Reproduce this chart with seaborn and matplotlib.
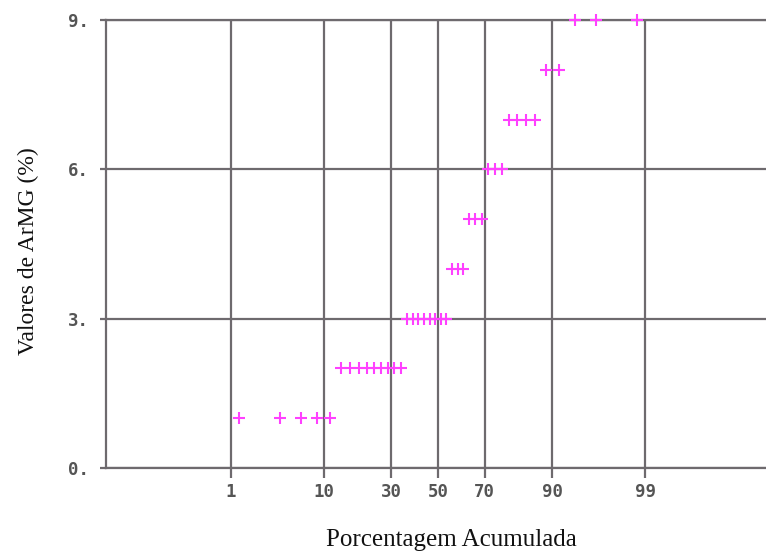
import numpy as np
import matplotlib
matplotlib.use("Agg")
import matplotlib.pyplot as plt
import seaborn as sns
import pandas as pd
from statistics import NormalDist

# ---- data ----
armg_values = [1, 1, 1, 1, 1,
               2, 2, 2, 2, 2, 2, 2, 2, 2,
               3, 3, 3, 3, 3, 3, 3, 3,
               4, 4, 4,
               5, 5, 5,
               6, 6, 6,
               7, 7, 7, 7,
               8, 8,
               9, 9, 9]
cum_percent = [1.25, 3.75, 6.25, 8.75, 11.25,
               13.75, 16.25, 18.75, 21.25, 23.75, 26.25, 28.75, 31.25, 33.75,
               36.25, 38.75, 41.25, 43.75, 46.25, 48.75, 51.25, 53.75,
               56.25, 58.75, 61.25,
               63.75, 66.25, 68.75,
               71.25, 73.75, 76.25,
               78.75, 81.25, 83.75, 86.25,
               88.75, 91.25,
               93.75, 96.25, 98.75]
x_ticks = [1, 10, 30, 50, 70, 90, 99]
x_ticklabels = ["1", "10", "30", "50", "70", "90", "99"]
y_ticks = [0, 3, 6, 9]
y_ticklabels = ["0.", "3.", "6.", "9."]

df = pd.DataFrame({"pct": cum_percent, "val": armg_values})

nd = NormalDist()


def fwd(p):
    p = np.asarray(p, dtype=float) / 100.0
    out = np.full(p.shape, np.nan)
    m = np.isfinite(p)
    q = np.clip(p[m], 1e-12, 1 - 1e-12)
    out[m] = [nd.inv_cdf(float(v)) for v in q]
    return out


def inv(z):
    z = np.asarray(z, dtype=float)
    out = np.full(z.shape, np.nan)
    m = np.isfinite(z)
    out[m] = [nd.cdf(float(v)) * 100.0 for v in z[m]]
    return out


sns.set_style("white")
plt.rcParams["font.family"] = ["DejaVu Sans"]

W, H = 766, 556
fig = plt.figure(figsize=(W / 100, H / 100), dpi=100)
left_px, right_px, top_px, bot_px = 106, 772, 20, 468
ax = fig.add_axes([left_px / W, (H - bot_px) / H,
                   (right_px - left_px) / W, (bot_px - top_px) / H])

ax.set_xscale("function", functions=(fwd, inv))

grid_col = "#6e6a6e"
ax.grid(True, color=grid_col, linewidth=1.6)
ax.set_axisbelow(True)

sns.scatterplot(data=df, x="pct", y="val", marker="+", color="#ff40ff",
                s=75, linewidth=1.5, ax=ax, zorder=3, clip_on=False,
                legend=False)

z_left = (left_px - 438) / 89.0
z_right = (right_px - 438) / 89.0
ax.set_xlim(nd.cdf(z_left) * 100, nd.cdf(z_right) * 100)
ax.set_ylim(0, 9)

ax.set_xticks(x_ticks)
ax.set_xticklabels(x_ticklabels)
ax.set_yticks(y_ticks)
ax.set_yticklabels(y_ticklabels)
ax.xaxis.set_minor_locator(matplotlib.ticker.NullLocator())

for lab in ax.get_xticklabels() + ax.get_yticklabels():
    lab.set_fontfamily("DejaVu Sans Mono")
    lab.set_fontweight("bold")
    lab.set_fontsize(12.5)
    lab.set_color("#555555")

ax.tick_params(axis="x", direction="out", length=7, width=1.6,
               color=grid_col, pad=3.5, bottom=True)
ax.tick_params(axis="y", direction="out", length=4.5, width=1.6,
               color=grid_col, pad=8, left=True)

for side in ["left", "bottom", "top"]:
    ax.spines[side].set_visible(True)
    ax.spines[side].set_color(grid_col)
    ax.spines[side].set_linewidth(1.6)
ax.spines["right"].set_visible(False)

ax.set_xlabel("")
ax.set_ylabel("")

fig.text(451 / W, 1 - 540 / H, "Porcentagem Acumulada",
         family="Liberation Serif", fontsize=18, color="#111111",
         ha="center", va="center")
fig.text(28 / W, 1 - 251 / H, "Valores de ArMG (%)",
         family="Liberation Serif", fontsize=17, color="#111111",
         ha="center", va="center", rotation=90)

fig.savefig("out.png", dpi=100)
